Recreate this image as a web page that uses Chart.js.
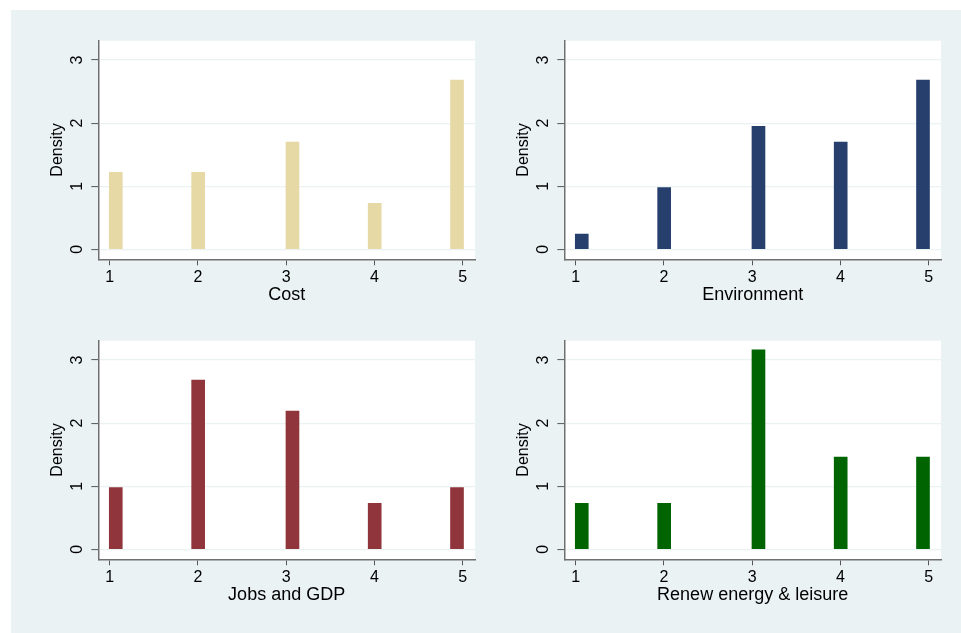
<!DOCTYPE html>
<html>
<head>
<meta charset="utf-8">
<script src="https://cdn.jsdelivr.net/npm/chart.js@4.4.0/dist/chart.umd.min.js"></script>
<style>
  body { margin: 0; background: #ffffff; }
  #frame { position: absolute; left: 11px; top: 10px; width: 950px; height: 623px; background: #eaf2f3; }
  canvas { position: absolute; }
</style>
</head>
<body>
<div id="frame"></div>
<canvas id="cost" width="450" height="280" style="left:40px;top:30px"></canvas>
<canvas id="environment" width="450" height="280" style="left:506px;top:30px"></canvas>
<canvas id="jobs" width="450" height="280" style="left:40px;top:330px"></canvas>
<canvas id="renew" width="450" height="280" style="left:506px;top:330px"></canvas>
<script>
// x tick labels (answer scores) and bin midpoints of the histogram bars
const scoreTicks = [1, 2, 3, 4, 5];
const binMid = [1.068, 2.002, 3.071, 4.003, 4.936];
const densityTicks = [0, 1, 2, 3];

// densities
const costDensity = [1.22, 1.22, 1.70, 0.73, 2.68];
const environmentDensity = [0.24, 0.98, 1.95, 1.70, 2.68];
const jobsDensity = [0.98, 2.68, 2.19, 0.73, 0.98];
const renewDensity = [0.73, 0.73, 3.16, 1.46, 1.46];

const FONT = "'Liberation Sans', Arial, sans-serif";

// white plot region like Stata's plotregion
const plotBg = {
  id: "plotBg",
  beforeDraw(chart) {
    const { ctx, chartArea: a } = chart;
    ctx.save();
    ctx.fillStyle = "#ffffff";
    ctx.fillRect(a.left, a.top, a.right - a.left, a.bottom - a.top);
    ctx.restore();
  },
};

function makePanel(id, values, color, title) {
  const points = binMid.map((x, i) => ({ x: x, y: values[i] }));
  return new Chart(document.getElementById(id), {
    type: "bar",
    data: {
      datasets: [
        {
          data: points,
          backgroundColor: color,
          borderWidth: 0,
          barThickness: 13,
        },
      ],
    },
    options: {
      responsive: false,
      animation: false,
      devicePixelRatio: 1,
      layout: { padding: { left: 0, top: 10.7, right: 15, bottom: 0 } },
      plugins: { legend: { display: false }, tooltip: { enabled: false } },
      scales: {
        x: {
          type: "linear",
          min: 0.87,
          max: 5.14,
          offset: false,
          afterBuildTicks: (s) => { s.ticks = scoreTicks.map((v) => ({ value: v })); },
          afterFit: (s) => { s.height = 50.7; s.paddingLeft = 0; s.paddingRight = 0; },
          ticks: { color: "#000", font: { family: FONT, size: 16 }, padding: 3, maxRotation: 0 },
          grid: { offset: false, drawOnChartArea: false, tickLength: 6, tickColor: "#555", tickWidth: 1 },
          border: { color: "#707070", width: 1.5 },
          title: { display: true, text: title, color: "#000", font: { family: FONT, size: 18 }, padding: { top: 0, bottom: 4 } },
        },
        y: {
          type: "linear",
          min: -0.158,
          max: 3.306,
          afterBuildTicks: (s) => { s.ticks = densityTicks.map((v) => ({ value: v })); },
          afterFit: (s) => { s.width = 58.3; s.paddingTop = 0; s.paddingBottom = 0; },
          ticks: { color: "#000", font: { family: FONT, size: 16 }, padding: 9, minRotation: 90, maxRotation: 90, crossAlign: "center" },
          grid: { color: "#eaf2f3", lineWidth: 1.2, tickLength: 7, tickColor: "#555", tickWidth: 1 },
          border: { color: "#707070", width: 1.5 },
          title: { display: true, text: "Density", color: "#000", font: { family: FONT, size: 16 }, padding: { top: 8, bottom: 0 } },
        },
      },
    },
    plugins: [plotBg],
  });
}

makePanel("cost", costDensity, "#e6d9a6", "Cost");
makePanel("environment", environmentDensity, "#263f6d", "Environment");
makePanel("jobs", jobsDensity, "#90353b", "Jobs and GDP");
makePanel("renew", renewDensity, "#006400", "Renew energy & leisure");
</script>
</body>
</html>
